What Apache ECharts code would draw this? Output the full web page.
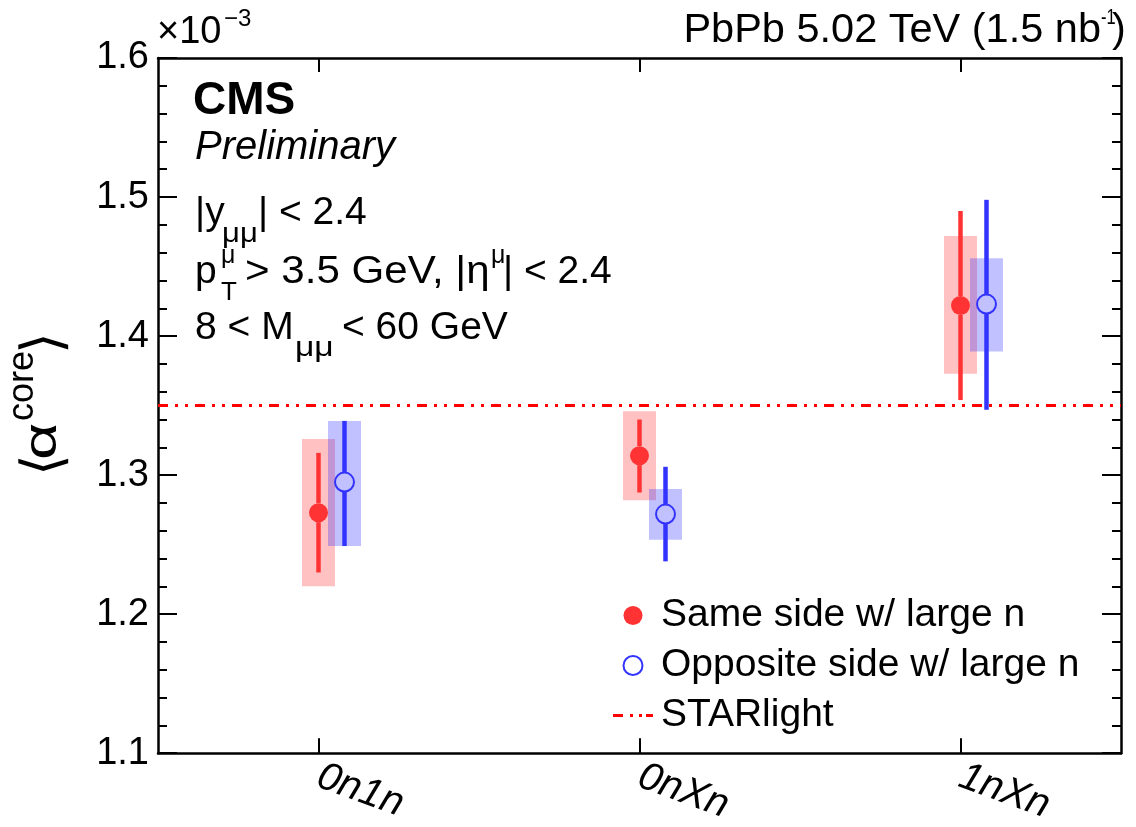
<!DOCTYPE html>
<html>
<head>
<meta charset="utf-8">
<script src="https://cdn.jsdelivr.net/npm/echarts@6/dist/echarts.min.js"></script>
<style>
  html, body { margin: 0; padding: 0; background: #fff; }
  #chart { width: 1136px; height: 827px; }
</style>
</head>
<body>
<div id="chart"></div>
<script>
// categories on x
var categories = ['0n1n', '0nXn', '1nXn'];

// same side w/ large n  (values in units of 1e-3)
var sameVal    = [1.273, 1.314, 1.422];
var sameStatLo = [1.230, 1.2875, 1.354];
var sameStatHi = [1.316, 1.340, 1.490];
var sameSysLo  = [1.220, 1.282, 1.373];
var sameSysHi  = [1.326, 1.346, 1.472];

// opposite side w/ large n
var oppVal    = [1.295, 1.272, 1.423];
var oppStatLo = [1.249, 1.238, 1.347];
var oppStatHi = [1.339, 1.306, 1.498];
var oppSysLo  = [1.249, 1.2535, 1.389];
var oppSysHi  = [1.339, 1.290, 1.456];

// STARlight prediction
var starlight = 1.349;

var FONT = '"Liberation Sans", Arial, Helvetica, sans-serif';
var RED = '#ff3333', BLUE = '#3333ff';
var RED_BOX = 'rgba(255,51,51,0.3)', BLUE_BOX = 'rgba(51,51,255,0.3)';
var oppShift = 26;   // px, opposite-side points sit a bit right of the tick
var boxHalf = 16.5;  // px
var markR = 9.5;     // px, marker radius (error bars stop at the marker)
var DASH = [10, 7, 3, 7, 3, 7];

function rows(lo, hi, mid) {
  return categories.map(function (c, i) { return [i, lo[i], hi[i], mid ? mid[i] : 0]; });
}

function boxRender(dx, fill) {
  return function (params, api) {
    var a = api.coord([api.value(0), api.value(1)]);
    var b = api.coord([api.value(0), api.value(2)]);
    return {
      type: 'rect',
      shape: { x: a[0] + dx - boxHalf, y: b[1], width: boxHalf * 2, height: a[1] - b[1] },
      style: { fill: fill }
    };
  };
}

function barRender(dx, color) {
  return function (params, api) {
    var a = api.coord([api.value(0), api.value(1)]);
    var b = api.coord([api.value(0), api.value(2)]);
    var m = api.coord([api.value(0), api.value(3)]);
    var x = a[0] + dx;
    var st = { stroke: color, lineWidth: 4.5 };
    return {
      type: 'group',
      children: [
        { type: 'line', shape: { x1: x, y1: a[1], x2: x, y2: m[1] + markR }, style: st },
        { type: 'line', shape: { x1: x, y1: m[1] - markR, x2: x, y2: b[1] }, style: st }
      ]
    };
  };
}

function txt(x, y, text, size, o) {
  o = o || {};
  return {
    type: 'text', x: x, y: y, scaleX: o.sx || 1,
    style: {
      text: text, x: 0, y: 0, fill: '#000',
      font: (o.w || '') + ' ' + size + 'px ' + (o.family || FONT),
      align: o.align || 'left', verticalAlign: 'middle'
    }
  };
}

var chart = echarts.init(document.getElementById('chart'));

var tickStyle = { color: '#000', width: 2 };

var option = {
  backgroundColor: '#fff',
  animation: false,
  grid: { left: 158, top: 58, width: 963, height: 697, containLabel: false },
  legend: {
    orient: 'vertical', left: 613, top: 596, padding: 0,
    itemWidth: 40, itemHeight: 19, itemGap: 11,
    textStyle: { fontSize: 39, fontFamily: FONT, color: '#000', padding: [0, 0, 0, 3] },
    data: [
      'Same side w/ large n',
      'Opposite side w/ large n',
      { name: 'STARlight', icon: 'path://M0,0h10v3h-10zM17,0h3v3h-3zM26,0h3v3h-3zM33,0h7v3h-7z',
        itemStyle: { color: 'red' } }
    ]
  },
  xAxis: [{
    type: 'category', data: categories, position: 'bottom',
    axisLine: { show: true, onZero: false, lineStyle: { color: '#000', width: 2.5 } },
    axisTick: { show: true, inside: true, alignWithLabel: true, interval: 0, length: 15, lineStyle: tickStyle },
    axisLabel: { fontSize: 40, fontStyle: 'italic', fontFamily: FONT, color: '#000', rotate: -20, margin: 22, interval: 0 },
    splitLine: { show: false }
  }, {
    type: 'category', data: categories, position: 'top',
    axisLine: { show: true, onZero: false, lineStyle: { color: '#000', width: 2.5 } },
    axisTick: { show: true, inside: true, alignWithLabel: true, interval: 0, length: 14, lineStyle: tickStyle },
    axisLabel: { show: false },
    splitLine: { show: false }
  }],
  yAxis: [{
    type: 'value', min: 1.1, max: 1.6, interval: 0.1, position: 'left',
    axisLine: { show: true, lineStyle: { color: '#000', width: 2.5 } },
    axisTick: { show: true, inside: true, length: 19, lineStyle: tickStyle },
    minorTick: { show: true, splitNumber: 5, length: 9, lineStyle: tickStyle },
    axisLabel: { fontSize: 38, fontFamily: FONT, color: '#000', margin: 9,
      formatter: function (v) { return v.toFixed(1); } },
    splitLine: { show: false }
  }, {
    type: 'value', min: 1.1, max: 1.6, interval: 0.1, position: 'right',
    axisLine: { show: true, lineStyle: { color: '#000', width: 2.5 } },
    axisTick: { show: true, inside: true, length: 19, lineStyle: tickStyle },
    minorTick: { show: true, splitNumber: 5, length: 9, lineStyle: tickStyle },
    axisLabel: { show: false },
    splitLine: { show: false }
  }],
  series: [
    { type: 'custom', name: 'sameSys', z: 1, renderItem: boxRender(0, RED_BOX), data: rows(sameSysLo, sameSysHi) },
    { type: 'custom', name: 'oppSys', z: 1, renderItem: boxRender(oppShift, BLUE_BOX), data: rows(oppSysLo, oppSysHi) },
    {
      type: 'line', name: 'STARlight', data: [], symbol: 'none', z: 2,
      itemStyle: { color: 'red' },
      lineStyle: { color: 'red', width: 3, type: DASH },
      markLine: {
        silent: true, symbol: 'none', label: { show: false },
        lineStyle: { color: 'red', width: 3, type: DASH },
        data: [{ yAxis: starlight }]
      }
    },
    { type: 'custom', name: 'sameStat', z: 3, renderItem: barRender(0, RED), data: rows(sameStatLo, sameStatHi, sameVal) },
    { type: 'custom', name: 'oppStat', z: 3, renderItem: barRender(oppShift, BLUE), data: rows(oppStatLo, oppStatHi, oppVal) },
    {
      type: 'scatter', name: 'Same side w/ large n', z: 4,
      symbol: 'circle', symbolSize: 19,
      itemStyle: { color: RED, opacity: 1 },
      data: categories.map(function (c, i) { return [i, sameVal[i]]; })
    },
    {
      type: 'scatter', name: 'Opposite side w/ large n', z: 4,
      symbol: 'circle', symbolSize: 19, symbolOffset: [oppShift, 0],
      itemStyle: { color: 'rgba(0,0,0,0)', borderColor: BLUE, borderWidth: 2, opacity: 1 },
      data: categories.map(function (c, i) { return [i, oppVal[i]]; })
    }
  ],
  graphic: [
    // exponent
    txt(157, 33, '\u00d710', 38),
    txt(224, 19, '\u22123', 24),
    // energy / lumi
    txt(1101, 31, 'PbPb 5.02 TeV (1.5 nb', 41.5, { align: 'right' }),
    txt(1101, 18, '-1', 22, { sx: 0.75 }),
    txt(1112, 31, ')', 41.5),
    // CMS labels
    txt(193, 101, 'CMS', 46, { w: 'bold' }),
    txt(195, 148, 'Preliminary', 40, { w: 'italic' }),
    // selection cuts
    txt(195, 213, '|y', 39),
    txt(222, 235, '\u03bc\u03bc', 27, { sx: 1.15 }),
    txt(258, 213, '| < 2.4', 39),
    txt(195, 272, 'p', 39),
    txt(221, 256, '\u03bc', 25),
    txt(221, 293, 'T', 26),
    txt(245, 272, '> 3.5 GeV, |\u03b7', 39, { sx: 1.08 }),
    txt(491, 256, '\u03bc', 25),
    txt(503, 272, '| < 2.4', 39),
    txt(195, 328, '8 < M', 39),
    txt(295, 348, '\u03bc\u03bc', 28, { sx: 1.2 }),
    txt(342, 328, '< 60 GeV', 39),
    // y title, rotated
    {
      type: 'group', x: 0, y: 476, rotation: Math.PI / 2,
      children: [
        txt(0, 46, '\u27e8', 56, { family: '"DejaVu Sans", sans-serif' }),
        txt(16, 43, '\u03b1', 46, { sx: 1.4 }),
        txt(55, 23, 'core', 36),
        txt(122, 46, '\u27e9', 56, { family: '"DejaVu Sans", sans-serif' })
      ]
    }
  ]
};

chart.setOption(option);
</script>
</body>
</html>
